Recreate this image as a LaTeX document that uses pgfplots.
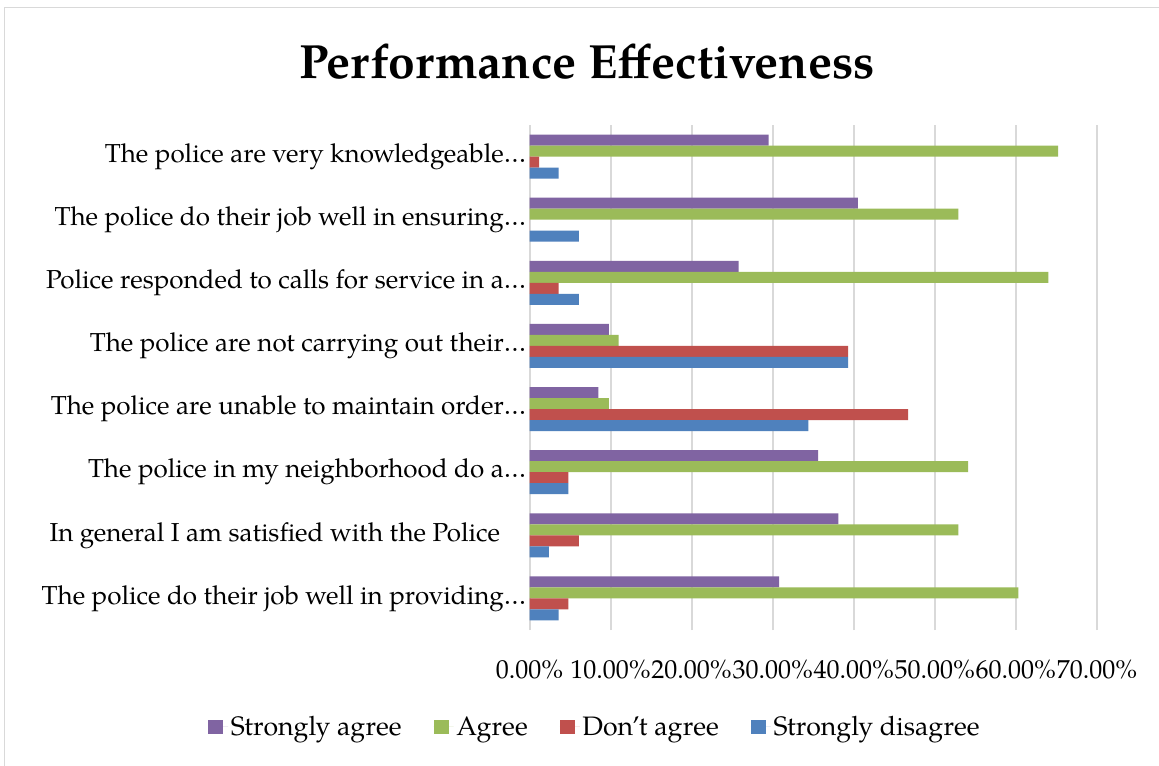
\documentclass[border=0pt]{standalone}
\usepackage{fontspec}
\setmainfont{texgyrepagella}[Extension=.otf, UprightFont=*-regular, BoldFont=*-bold, ItalicFont=*-italic, BoldItalicFont=*-bolditalic]
\usepackage{pgfplots}
\pgfplotsset{compat=1.18}
\definecolor{cPur}{HTML}{8064A2}
\definecolor{cGrn}{HTML}{9BBB59}
\definecolor{cRed}{HTML}{C0504D}
\definecolor{cBlu}{HTML}{4F81BD}
\definecolor{cGrid}{HTML}{D9D9D9}
\begin{document}
\begin{tikzpicture}[x=0.75pt,y=-0.75pt]
\useasboundingbox (0,0) rectangle (1159,765);
\fill[white] (0,0) rectangle (1159,765);
\draw[cGrid, line width=1.2pt] (4.5,770) -- (4.5,7.5) -- (1170,7.5);
\node[font=\bfseries\fontsize{36}{42}\selectfont] at (587,62) {Performance Effectiveness};
\begin{axis}[
  at={(397.125pt,-472.5pt)}, anchor=south west,
  scale only axis, width=425.6pt, height=378.75pt,
  xbar, bar width=8.25pt,
  xmin=0, xmax=70, ymin=-0.5, ymax=7.5,
  axis line style={draw=none},
  tick style={draw=none},
  xmajorgrids, major grid style={draw=cGrid, line width=1.5pt},
  xtick={0,10,...,70},
  xticklabels={0.00\%,10.00\%,20.00\%,30.00\%,40.00\%,50.00\%,60.00\%,70.00\%},
  xticklabel style={font=\fontsize{19.5}{22}\selectfont, anchor=base, inner sep=0pt, yshift=-36pt},
  ytick={0,...,7},
  yticklabels={
    {The police do their job well in providing…},
    {In general I am satisfied with the Police\kern19.5pt\strut},
    {The police in my neighborhood do a…},
    {The police are unable to maintain order…},
    {The police are not carrying out their…},
    {Police responded to calls for service in a…},
    {The police do their job well in ensuring…},
    {The police are very knowledgeable…}},
  yticklabel style={font=\fontsize{19.5}{22}\selectfont, anchor=east, inner sep=0pt, xshift=2pt},
  legend columns=4,
  legend style={at={(0.116,-0.192)}, anchor=center, draw=none, fill=none,
    font=\fontsize{20}{22}\selectfont,
    /tikz/every even column/.append style={column sep=22pt}},
  legend image code/.code={\fill[#1] (0pt,-5.6pt) rectangle (11.2pt,5.6pt); \path (0pt,0pt) -- (15pt,0pt);},
]
\addplot[fill=cPur, draw=none, bar shift=12.375pt] coordinates {
 (30.8,0) (38.1,1) (35.6,2) (8.5,3) (9.8,4) (25.8,5) (40.5,6) (29.5,7)};
\addplot[fill=cGrn, draw=none, bar shift=4.125pt] coordinates {
 (60.3,0) (52.9,1) (54.1,2) (9.8,3) (11.0,4) (64.0,5) (52.9,6) (65.2,7)};
\addplot[fill=cRed, draw=none, bar shift=-4.125pt] coordinates {
 (4.8,0) (6.1,1) (4.8,2) (46.7,3) (39.3,4) (3.6,5) (0,6) (1.2,7)};
\addplot[fill=cBlu, draw=none, bar shift=-12.375pt] coordinates {
 (3.6,0) (2.4,1) (4.8,2) (34.4,3) (39.3,4) (6.1,5) (6.1,6) (3.6,7)};
\legend{Strongly agree, Agree, Don't agree, Strongly disagree}
\end{axis}
\end{tikzpicture}
\end{document}
